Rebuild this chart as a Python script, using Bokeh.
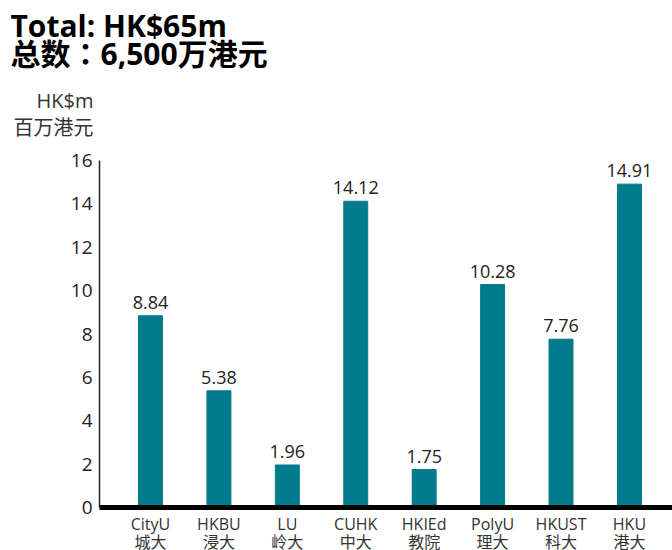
from bokeh.plotting import figure
from bokeh.models import Range1d, FixedTicker, Label
from bokeh.embed import file_html
from bokeh.resources import INLINE

names_en = ["CityU", "HKBU", "LU", "CUHK", "HKIEd", "PolyU", "HKUST", "HKU"]
names_zh = ["城大", "浸大", "岭大", "中大", "教院", "理大", "科大", "港大"]
values = [8.84, 5.38, 1.96, 14.12, 1.75, 10.28, 7.76, 14.91]
y_ticks = [0, 2, 4, 6, 8, 10, 12, 14, 16]

FONT = "Open Sans, Noto Sans CJK SC"
FONT_TC = "Open Sans, Noto Sans CJK TC"
xs = list(range(len(values)))

W, H = 672, 550
# pixel layout of the chart area
PX_AXIS, PX_FIRST, PX_STEP = 99, 150, 68.42
PY_ZERO, PY_TOP, Y_TOP = 507, 160, 16
SX = PX_STEP
SY = (PY_ZERO - PY_TOP) / Y_TOP

X0 = -PX_FIRST / SX
X1 = X0 + W / SX
Y1 = PY_ZERO / SY
Y0 = -(H - PY_ZERO) / SY


def d(px, py):
    return X0 + px / SX, Y1 - py / SY


p = figure(width=W, height=H, output_backend="svg", toolbar_location=None,
           x_range=Range1d(X0, X1), y_range=Range1d(Y0, Y1),
           min_border=0)
p.outline_line_color = None
p.grid.visible = False

p.vbar(x=xs, top=values, width=0.35, bottom=0, color="#007b8b")

x_axis_left = d(PX_AXIS, 0)[0]

p.yaxis.fixed_location = x_axis_left
p.yaxis.bounds = (0, Y_TOP)
p.yaxis.ticker = FixedTicker(ticks=y_ticks)
p.yaxis.axis_line_color = "#222222"
p.yaxis.axis_line_width = 1.5
p.yaxis.major_tick_line_color = None
p.yaxis.major_tick_out = 0
p.yaxis.major_tick_in = 0
p.yaxis.minor_tick_line_color = None
p.yaxis.major_label_text_font = FONT
p.yaxis.major_label_text_font_size = "19px"
p.yaxis.major_label_text_color = "#222222"
p.yaxis.major_label_standoff = 7

p.xaxis.fixed_location = 0
p.xaxis.bounds = (x_axis_left, X1)
p.xaxis.ticker = FixedTicker(ticks=xs)
p.xaxis.major_label_overrides = {i: f"{e}\n{z}" for i, (e, z) in enumerate(zip(names_en, names_zh))}
p.xaxis.axis_line_color = "black"
p.xaxis.axis_line_width = 5
p.xaxis.major_tick_line_color = None
p.xaxis.major_tick_out = 0
p.xaxis.major_tick_in = 0
p.xaxis.minor_tick_line_color = None
p.xaxis.major_label_text_font = FONT
p.xaxis.major_label_text_font_size = "16px"
p.xaxis.major_label_text_line_height = 0.85
p.xaxis.major_label_text_color = "#333333"
p.xaxis.major_label_standoff = 5

for x, v in zip(xs, values):
    p.add_layout(Label(x=x, y=v, text=f"{v:.2f}", text_align="center", text_baseline="bottom",
                       y_offset=7, text_font=FONT, text_font_size="18px", text_color="#222222"))

tx, ty1 = d(10, 4)
_, ty2 = d(10, 32)
ux, uy1 = d(93, 86)
_, uy2 = d(93, 113)

p.add_layout(Label(x=tx, y=ty1, text="Total: HK$65m", text_font=FONT, text_font_style="bold",
                   text_font_size="30px", text_baseline="top", text_color="black"))
p.add_layout(Label(x=tx, y=ty2, text="总数：6,500万港元", text_font=FONT_TC, text_font_style="bold",
                   text_font_size="30px", text_baseline="top", text_color="black"))
p.add_layout(Label(x=ux, y=uy1, text="HK$m", text_font=FONT, text_font_size="20px",
                   text_align="right", text_baseline="top", text_color="#333333"))
p.add_layout(Label(x=ux, y=uy2, text="百万港元", text_font=FONT, text_font_size="20px",
                   text_align="right", text_baseline="top", text_color="#333333"))

open("out.html", "w").write(file_html(p, INLINE))
